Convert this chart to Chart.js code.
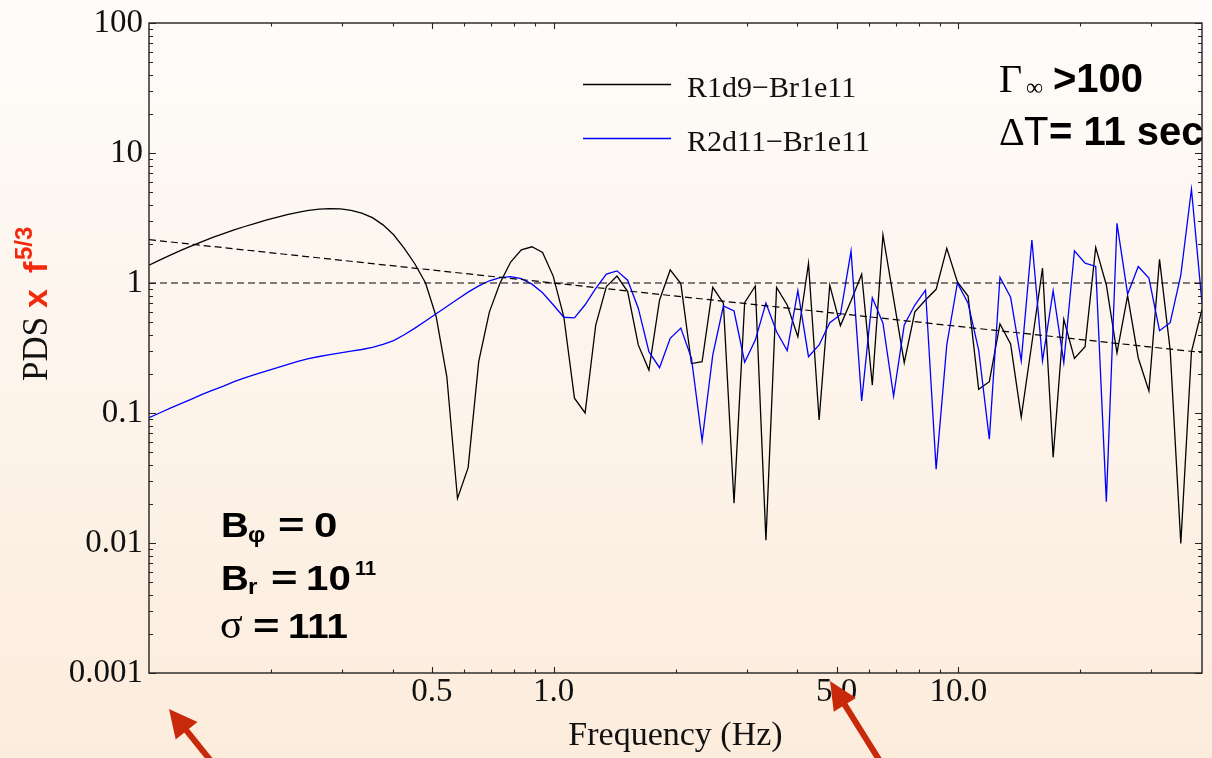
<!DOCTYPE html>
<html>
<head>
<meta charset="utf-8">
<script src="https://cdn.jsdelivr.net/npm/chart.js@4.4.1/dist/chart.umd.min.js"></script>
<style>
  html, body { margin: 0; padding: 0; background: #fdf4ea; }
  #wrap { width: 1212px; height: 758px; }
  canvas { display: block; }
</style>
</head>
<body>
<div id="wrap"><canvas id="pds" width="1212" height="758"></canvas></div>
<script>
// Frequency grid (Hz), log-spaced from 0.1 to 40
const frequencies = [
  0.1000, 0.1062, 0.1129, 0.1199, 0.1274, 0.1353, 0.1438, 0.1528, 0.1623, 0.1724,
  0.1832, 0.1946, 0.2067, 0.2196, 0.2333, 0.2479, 0.2634, 0.2798, 0.2973, 0.3158,
  0.3355, 0.3565, 0.3787, 0.4023, 0.4274, 0.4541, 0.4824, 0.5125, 0.5445, 0.5785,
  0.6146, 0.6529, 0.6937, 0.7370, 0.7829, 0.8318, 0.8837, 0.9388, 0.9972, 1.0594,
  1.1255, 1.1958, 1.2704, 1.3496, 1.4338, 1.5233, 1.6183, 1.7193, 1.8266, 1.9405,
  2.0616, 2.1903, 2.3269, 2.4721, 2.6264, 2.7903, 2.9644, 3.1494, 3.3459, 3.5547,
  3.7765, 4.0121, 4.2624, 4.5284, 4.8110, 5.1112, 5.4301, 5.7689, 6.1289, 6.5113,
  6.9176, 7.3492, 7.8078, 8.2950, 8.8126, 9.3625, 9.9465, 10.567, 11.226, 11.927,
  12.671, 13.462, 14.302, 15.194, 16.142, 17.149, 18.220, 19.357, 20.564, 21.847,
  23.210, 24.659, 26.197, 27.832, 29.569, 31.414, 33.374, 35.457, 37.669, 40.00
];

// PDS x f^(5/3), run R1d9-Br1e11
const pdsR1d9 = [
  1.37, 1.50, 1.64, 1.78, 1.93, 2.08, 2.24, 2.40, 2.56, 2.72,
  2.88, 3.04, 3.20, 3.36, 3.50, 3.62, 3.70, 3.74, 3.72, 3.62,
  3.45, 3.18, 2.80, 2.35, 1.85, 1.40, 1.00, 0.55, 0.19, 0.022,
  0.038, 0.25, 0.60, 1.00, 1.45, 1.80, 1.90, 1.72, 1.13, 0.55,
  0.13, 0.10, 0.475, 0.94, 1.13, 0.86, 0.334, 0.214, 0.74, 1.26,
  0.99, 0.24, 0.248, 0.926, 0.70, 0.0202, 0.705, 0.948, 0.0105, 0.926,
  0.677, 0.386, 1.417, 0.0883, 0.965, 0.47, 0.73, 1.17, 0.164, 2.34,
  0.757, 0.244, 0.60, 0.74, 0.894, 1.85, 1.02, 0.794, 0.152, 0.174,
  0.484, 0.34, 0.093, 0.344, 1.30, 0.0456, 0.526, 0.263, 0.324, 1.88,
  0.965, 0.29, 0.80, 0.265, 0.148, 1.52, 0.305, 0.0099, 0.296, 0.63
];

// PDS x f^(5/3), run R2d11-Br1e11
const pdsR2d11 = [
  0.092, 0.100, 0.109, 0.118, 0.128, 0.139, 0.150, 0.161, 0.174, 0.186,
  0.198, 0.210, 0.222, 0.236, 0.250, 0.262, 0.272, 0.281, 0.290, 0.299,
  0.308, 0.320, 0.337, 0.360, 0.40, 0.45, 0.51, 0.58, 0.66, 0.75,
  0.85, 0.95, 1.04, 1.10, 1.12, 1.08, 0.98, 0.84, 0.68, 0.545,
  0.54, 0.68, 0.91, 1.17, 1.24, 1.05, 0.64, 0.296, 0.223, 0.375,
  0.45, 0.263, 0.0612, 0.279, 0.665, 0.609, 0.246, 0.364, 0.70, 0.422,
  0.302, 0.873, 0.271, 0.334, 0.495, 0.57, 1.76, 0.124, 0.77, 0.49,
  0.135, 0.475, 0.677, 0.88, 0.037, 0.334, 1.00, 0.70, 0.305, 0.063,
  1.106, 0.776, 0.252, 2.14, 0.252, 0.873, 0.244, 1.77, 1.42, 1.34,
  0.0208, 2.88, 0.82, 1.34, 1.09, 0.43, 0.495, 1.15, 5.26, 0.70
];

// Reference lines: flat spectrum and f^(-1/3) slope
const refFreq = [0.1, 40];
const refFlat = [1, 1];
const refSlope = [2.154, 0.292];

// Axis ticks
const xMajorTicks = [0.5, 1, 5, 10];
const xTickLabels = ['0.5', '1.0', '5.0', '10.0'];
const xMinorTicks = [0.2, 0.3, 0.4, 0.6, 0.7, 0.8, 0.9, 2, 3, 4, 6, 7, 8, 9, 20, 30];
const yMajorTicks = [0.001, 0.01, 0.1, 1, 10, 100];
const yTickLabels = ['0.001', '0.01', '0.1', '1', '10', '100'];
const yMinorTicks = [
  0.002, 0.003, 0.004, 0.005, 0.006, 0.007, 0.008, 0.009,
  0.02, 0.03, 0.04, 0.05, 0.06, 0.07, 0.08, 0.09,
  0.2, 0.3, 0.4, 0.5, 0.6, 0.7, 0.8, 0.9,
  2, 3, 4, 5, 6, 7, 8, 9,
  20, 30, 40, 50, 60, 70, 80, 90
];

const SERIF = '"Liberation Serif", "Times New Roman", serif';
const SANS = '"Liberation Sans", Arial, sans-serif';
const RED = '#f3290b';

const toPoints = (xs, ys) => xs.map((x, i) => ({ x: x, y: ys[i] }));

// Page background: warm vertical wash
const backdrop = {
  id: 'backdrop',
  beforeDraw(chart) {
    const { ctx, width, height } = chart;
    const g = ctx.createLinearGradient(0, 0, 0, height);
    g.addColorStop(0, '#fefcfa');
    g.addColorStop(1, '#fcecdc');
    ctx.save();
    ctx.fillStyle = g;
    ctx.fillRect(0, 0, width, height);
    ctx.restore();
  }
};

// Text pieces, each with its own font, colour and optional horizontal stretch
function drawRuns(ctx, runs) {
  for (const r of runs) {
    ctx.save();
    ctx.font = r.font;
    ctx.fillStyle = r.color || '#000';
    ctx.translate(r.x, r.y);
    ctx.scale(r.sx || 1, 1);
    ctx.fillText(r.text, 0, 0);
    ctx.restore();
  }
}

function drawArrow(ctx, tipX, tipY, dx, dy, headLen, headHalf, shaftLen, width, color) {
  const n = Math.hypot(dx, dy); dx /= n; dy /= n;
  const bx = tipX + dx * headLen, by = tipY + dy * headLen;
  ctx.save();
  ctx.strokeStyle = color; ctx.fillStyle = color;
  ctx.lineWidth = width; ctx.lineCap = 'butt';
  ctx.beginPath();
  ctx.moveTo(bx - dx * 2, by - dy * 2);
  ctx.lineTo(tipX + dx * shaftLen, tipY + dy * shaftLen);
  ctx.stroke();
  ctx.beginPath();
  ctx.moveTo(tipX, tipY);
  ctx.lineTo(bx - dy * headHalf, by + dx * headHalf);
  ctx.lineTo(bx + dy * headHalf, by - dx * headHalf);
  ctx.closePath();
  ctx.fill();
  ctx.restore();
}

// Frame with inward ticks on all four sides, legend, labels and annotations
const decorations = {
  id: 'decorations',
  afterDraw(chart) {
    const { ctx, chartArea: a, scales: { x, y } } = chart;
    ctx.save();

    // frame
    ctx.strokeStyle = '#222';
    ctx.lineWidth = 1.4;
    ctx.strokeRect(a.left, a.top, a.right - a.left, a.bottom - a.top);

    // ticks
    ctx.lineWidth = 1.1;
    ctx.beginPath();
    const xTick = (v, len) => {
      const px = Math.round(x.getPixelForValue(v)) + 0.5;
      ctx.moveTo(px, a.bottom); ctx.lineTo(px, a.bottom - len);
      ctx.moveTo(px, a.top); ctx.lineTo(px, a.top + len);
    };
    const yTick = (v, len) => {
      const py = Math.round(y.getPixelForValue(v)) + 0.5;
      ctx.moveTo(a.left, py); ctx.lineTo(a.left + len, py);
      ctx.moveTo(a.right, py); ctx.lineTo(a.right - len, py);
    };
    xMajorTicks.forEach(v => xTick(v, 6));
    xMinorTicks.forEach(v => xTick(v, 3.5));
    yMajorTicks.forEach(v => yTick(v, 7));
    yMinorTicks.forEach(v => yTick(v, 4));
    ctx.stroke();

    // legend
    ctx.textBaseline = 'alphabetic';
    ctx.textAlign = 'left';
    const legendRows = [84, 138];
    chart.data.datasets.filter(d => d.inLegend).forEach((d, i) => {
      const ly = legendRows[i];
      ctx.strokeStyle = d.borderColor;
      ctx.lineWidth = 1.4;
      ctx.beginPath();
      ctx.moveTo(583, ly + 0.5); ctx.lineTo(671, ly + 0.5);
      ctx.stroke();
      ctx.font = '30px ' + SERIF;
      ctx.fillStyle = '#111';
      ctx.fillText(d.label, 687, ly + 12.5);
    });

    // y-axis title
    ctx.save();
    ctx.translate(47, 381);
    ctx.rotate(-Math.PI / 2);
    drawRuns(ctx, [
      { text: 'PDS', x: 0, y: 0, font: '35px ' + SERIF, color: '#111' },
      { text: 'x', x: 73, y: 0, font: 'bold 34px ' + SANS, color: RED },
      { text: 'f', x: 108, y: 0, font: 'bold 34px ' + SANS, color: RED },
      { text: '5/3', x: 121, y: -15, font: 'bold 24px ' + SANS, color: RED }
    ]);
    ctx.restore();

    // top-right annotation
    drawRuns(ctx, [
      { text: 'Γ', x: 999, y: 92, font: '40px ' + SERIF },
      { text: '∞', x: 1026, y: 95, font: '24px ' + SERIF },
      { text: '>100', x: 1053, y: 92, font: 'bold 40px ' + SANS },
      { text: 'Δ', x: 999, y: 145, font: '40px ' + SERIF },
      { text: 'T', x: 1024, y: 145, font: '40px ' + SANS },
      { text: '= 11 sec', x: 1049, y: 145, font: 'bold 40px ' + SANS }
    ]);

    // bottom-left annotation
    drawRuns(ctx, [
      { text: 'B', x: 221, y: 537, font: 'bold 35px ' + SANS, sx: 1.1 },
      { text: 'φ', x: 248, y: 542, font: 'bold 22px ' + SANS, sx: 1.1 },
      { text: '=', x: 278, y: 537, font: 'bold 35px ' + SANS, sx: 1.3 },
      { text: '0', x: 314, y: 537, font: 'bold 35px ' + SANS, sx: 1.2 },
      { text: 'B', x: 221, y: 590, font: 'bold 35px ' + SANS, sx: 1.1 },
      { text: 'r', x: 248, y: 594, font: 'bold 22px ' + SANS, sx: 1.1 },
      { text: '=', x: 271, y: 590, font: 'bold 35px ' + SANS, sx: 1.3 },
      { text: '10', x: 306, y: 590, font: 'bold 35px ' + SANS, sx: 1.15 },
      { text: '11', x: 355, y: 575, font: 'bold 20px ' + SANS },
      { text: 'σ', x: 220, y: 638, font: '42px ' + SERIF },
      { text: '=', x: 253, y: 638, font: 'bold 35px ' + SANS, sx: 1.3 },
      { text: '111', x: 288, y: 638, font: 'bold 35px ' + SANS, sx: 1.1 }
    ]);

    // pointer arrows
    drawArrow(ctx, 169, 709, 0.63, 0.78, 28, 14, 80, 6, '#c9290b');
    drawArrow(ctx, 830, 681, 0.53, 0.85, 28, 13, 100, 6, '#c9290b');

    ctx.restore();
  }
};

new Chart(document.getElementById('pds'), {
  type: 'line',
  data: {
    datasets: [
      {
        label: 'R1d9\u2212Br1e11', inLegend: true,
        data: toPoints(frequencies, pdsR1d9),
        borderColor: '#000000', borderWidth: 1.3, order: 3
      },
      {
        label: 'R2d11\u2212Br1e11', inLegend: true,
        data: toPoints(frequencies, pdsR2d11),
        borderColor: '#0000ff', borderWidth: 1.3, order: 2
      },
      {
        label: 'flat', inLegend: false,
        data: toPoints(refFreq, refFlat),
        borderColor: '#000000', borderWidth: 1.2, borderDash: [7, 4], order: 1
      },
      {
        label: 'slope', inLegend: false,
        data: toPoints(refFreq, refSlope),
        borderColor: '#000000', borderWidth: 1.2, borderDash: [7, 4], order: 1
      }
    ]
  },
  options: {
    responsive: false,
    animation: false,
    devicePixelRatio: 1,
    layout: { padding: { left: 0, top: 23, right: 10, bottom: 0 } },
    elements: { point: { radius: 0, hoverRadius: 0 }, line: { tension: 0, fill: false } },
    plugins: { legend: { display: false }, tooltip: { enabled: false } },
    events: [],
    scales: {
      x: {
        type: 'logarithmic', position: 'bottom', min: 0.1, max: 40,
        grid: { display: false, drawTicks: false },
        border: { display: false },
        afterBuildTicks: s => { s.ticks = xMajorTicks.map(v => ({ value: v })); },
        afterFit: s => { s.height = 85; },
        ticks: {
          autoSkip: false, maxRotation: 0, minRotation: 0, padding: 3, color: '#111',
          font: { family: SERIF, size: 33, lineHeight: 1 },
          callback: (v, i) => xTickLabels[i]
        },
        title: {
          display: true, text: 'Frequency (Hz)', color: '#111',
          font: { family: SERIF, size: 34, lineHeight: 1 },
          padding: { top: 0, bottom: 5 }
        }
      },
      y: {
        type: 'logarithmic', position: 'left', min: 0.001, max: 100,
        grid: { display: false, drawTicks: false },
        border: { display: false },
        afterBuildTicks: s => { s.ticks = yMajorTicks.map(v => ({ value: v })); },
        afterFit: s => { s.width = 149; },
        ticks: {
          autoSkip: false, padding: 6, color: '#111',
          font: { family: SERIF, size: 33, lineHeight: 1 },
          callback: (v, i) => yTickLabels[i]
        }
      }
    }
  },
  plugins: [backdrop, decorations]
});
</script>
</body>
</html>
